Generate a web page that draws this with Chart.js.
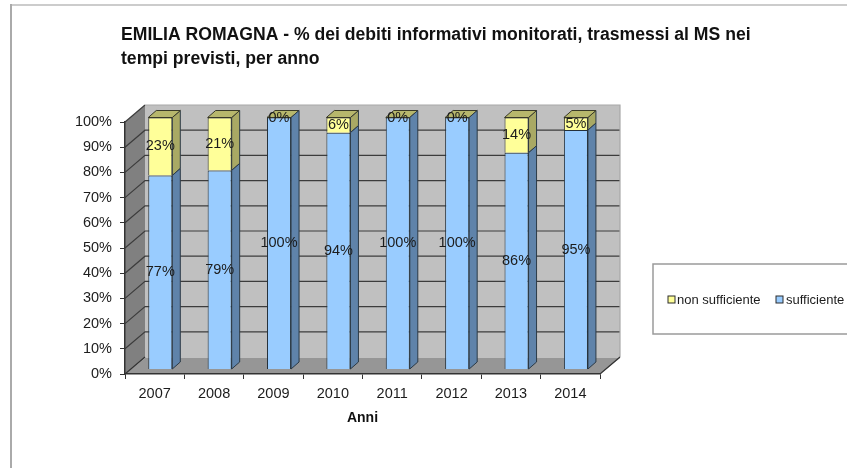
<!doctype html>
<html lang="en">
<head>
<title>Emilia Romagna</title>
<meta charset="utf-8">
<script src="https://cdn.jsdelivr.net/npm/chart.js"></script>
<style>
html, body { margin: 0; padding: 0; background: #fff; overflow: hidden; }
canvas { display: block; filter: blur(0.55px); }
</style>
</head>
<body>
<canvas id="myChart" width="847" height="468"></canvas>

<script>
const anni = ['2007', '2008', '2009', '2010', '2011', '2012', '2013', '2014'];
const sufficiente = [77, 79, 100, 94, 100, 100, 86, 95];
const nonSufficiente = [23, 21, 0, 6, 0, 0, 14, 5];
const titolo = ['EMILIA ROMAGNA - % dei debiti informativi monitorati, trasmessi al MS nei', 'tempi previsti, per anno'];

const font = 'Liberation Sans, Arial, sans-serif';
// profondita' del grafico 3D
const wallX = 20, wallY = 17;
const shiftX = 5.6, shiftY = -4.5;
const barX = 8, barY = -7;

function poly(ctx, pts, fill, stroke) {
	ctx.beginPath();
	pts.forEach(function(p, i) {
		if (i == 0) ctx.moveTo(p[0], p[1]); else ctx.lineTo(p[0], p[1]);
	});
	ctx.closePath();
	ctx.fillStyle = fill;
	ctx.fill();
	if (stroke) {
		ctx.strokeStyle = stroke;
		ctx.lineWidth = 1;
		ctx.stroke();
	}
}

const frame3d = {
	id: 'frame3d',
	afterLayout(chart) {
		// le etichette di y stanno fuori dal box stretto dell'asse
		chart.scales.y.left = 0;
	},
	beforeDraw(chart) {
		const ctx = chart.ctx;
		const a = chart.chartArea;
		const y = chart.scales.y;
		ctx.save();
		// cornice esterna
		ctx.fillStyle = '#cccccc';
		ctx.fillRect(10, 4, 837, 2);
		ctx.fillStyle = '#aaaaaa';
		ctx.fillRect(10, 4, 2, 464);
		// pareti e pavimento
		poly(ctx, [[a.left + wallX, a.top - wallY], [a.right + wallX, a.top - wallY], [a.right + wallX, a.bottom - wallY + 1], [a.left + wallX, a.bottom - wallY + 1]], '#c0c0c0');
		poly(ctx, [[a.left, a.top], [a.left + wallX, a.top - wallY], [a.left + wallX, a.bottom - wallY + 1], [a.left, a.bottom]], '#808080');
		poly(ctx, [[a.left, a.bottom], [a.right, a.bottom], [a.right + wallX, a.bottom - wallY + 1], [a.left + wallX, a.bottom - wallY + 1]], '#969696');
		// griglia
		ctx.strokeStyle = '#3c3c3c';
		ctx.lineWidth = 1.2;
		y.ticks.forEach(function(t) {
			const py = y.getPixelForValue(t.value);
			if (t.value == 0) return;
			ctx.beginPath();
			ctx.moveTo(a.left, py);
			ctx.lineTo(a.left + wallX, py - wallY);
			if (t.value < 100) ctx.lineTo(a.right + wallX, py - wallY);
			ctx.stroke();
		});
		// bordo destro e pavimento
		ctx.strokeStyle = '#a8a8a8';
		ctx.beginPath();
		ctx.moveTo(a.left + wallX, a.top - wallY);
		ctx.lineTo(a.right + wallX, a.top - wallY);
		ctx.lineTo(a.right + wallX, a.bottom - wallY);
		ctx.stroke();
		ctx.strokeStyle = '#333333';
		ctx.beginPath();
		ctx.moveTo(a.left, a.bottom);
		ctx.lineTo(a.left + wallX, a.bottom - wallY);
		ctx.moveTo(a.right, a.bottom);
		ctx.lineTo(a.right + wallX, a.bottom - wallY);
		ctx.stroke();
		ctx.restore();
	},
	beforeDatasetDraw(chart, args) {
		const ctx = chart.ctx;
		const isTop = args.index == 1;
		ctx.save();
		ctx.translate(shiftX, shiftY);
		args.meta.data.forEach(function(el) {
			const r = el.x + el.width / 2;
			const l = el.x - el.width / 2;
			if (el.base - el.y > 0) {
				poly(ctx, [[r, el.y], [r + barX, el.y + barY], [r + barX, el.base + barY], [r, el.base]], isTop ? '#a9a964' : '#5f83aa', '#2c3a46');
			}
			if (isTop) {
				poly(ctx, [[l, el.y], [l + barX, el.y + barY], [r + barX, el.y + barY], [r, el.y]], '#b7b76c', '#3a3a28');
			}
		});
	},
	afterDatasetDraw(chart) {
		chart.ctx.restore();
	},
	afterDatasetsDraw(chart) {
		const ctx = chart.ctx;
		ctx.save();
		ctx.font = '14.5px ' + font;
		ctx.fillStyle = '#1c1c1c';
		ctx.textAlign = 'center';
		ctx.textBaseline = 'middle';
		chart.data.datasets.forEach(function(ds, i) {
			chart.getDatasetMeta(i).data.forEach(function(el, j) {
				ctx.fillText(ds.data[j] + '%', el.x + shiftX, (el.y + el.base) / 2 + shiftY);
			});
		});
		// legenda
		ctx.strokeStyle = '#9a9a9a';
		ctx.lineWidth = 1.5;
		ctx.strokeRect(653, 264, 200, 70);
		ctx.font = '13px ' + font;
		ctx.textAlign = 'left';
		const voci = [[1, 668, 677], [0, 776, 786]];
		voci.forEach(function(v) {
			const ds = chart.data.datasets[v[0]];
			ctx.fillStyle = ds.backgroundColor;
			ctx.strokeStyle = '#2c2c2c';
			ctx.lineWidth = 1;
			ctx.fillRect(v[1], 296, 7, 7);
			ctx.strokeRect(v[1], 296, 7, 7);
			ctx.fillStyle = '#1c1c1c';
			ctx.fillText(ds.label, v[2], 300);
		});
		ctx.restore();
	}
};

new Chart(document.getElementById('myChart'), {
	type: 'bar',
	plugins: [frame3d],
	data: {
		labels: anni,
		datasets: [
			{ label: 'sufficiente', data: sufficiente, backgroundColor: '#99ccff', borderColor: '#24303a', borderWidth: 1, clip: false },
			{ label: 'non sufficiente', data: nonSufficiente, backgroundColor: '#ffff99', borderColor: '#33332a', borderWidth: 1, clip: false }
		]
	},
	options: {
		responsive: false,
		animation: false,
		layout: { padding: { left: 121, right: 0, top: 0, bottom: 41 } },
		datasets: { bar: { barPercentage: 0.405, categoryPercentage: 1 } },
		plugins: {
			legend: { display: false },
			tooltip: { enabled: false },
			title: {
				display: true,
				text: titolo,
				align: 'start',
				color: '#111111',
				font: { family: font, size: 17.6, weight: 'bold', lineHeight: 1.364 },
				padding: { top: 23, bottom: 51 }
			}
		},
		scales: {
			x: {
				stacked: true,
				afterFit(scale) { scale.height = 53; },
				grid: { offset: true, drawOnChartArea: false, color: '#333333', tickLength: 5, tickColor: '#333333' },
				border: { color: '#333333', width: 1.5 },
				ticks: { color: '#1c1c1c', font: { family: font, size: 14.5 }, padding: 6, maxRotation: 0 },
				title: { display: true, text: 'Anni', color: '#111111', font: { family: font, size: 14, weight: 'bold' }, padding: 0 }
			},
			y: {
				stacked: true,
				min: 0,
				max: 100,
				afterFit(scale) { scale.width = 4; },
				grid: { drawOnChartArea: false, tickLength: 5, tickColor: '#333333' },
				border: { color: '#333333', width: 1.5 },
				ticks: {
					stepSize: 10,
					color: '#1c1c1c',
					font: { family: font, size: 14.5 },
					padding: 8,
					callback: function(v) { return v + '%'; }
				}
			},
			// solo per lasciare lo spazio a destra (legenda)
			spazio: {
				position: 'right',
				display: true,
				afterFit(scale) { scale.width = 247; },
				grid: { display: false },
				border: { display: false },
				ticks: { display: false }
			}
		}
	}
});
</script>
</body>
</html>
